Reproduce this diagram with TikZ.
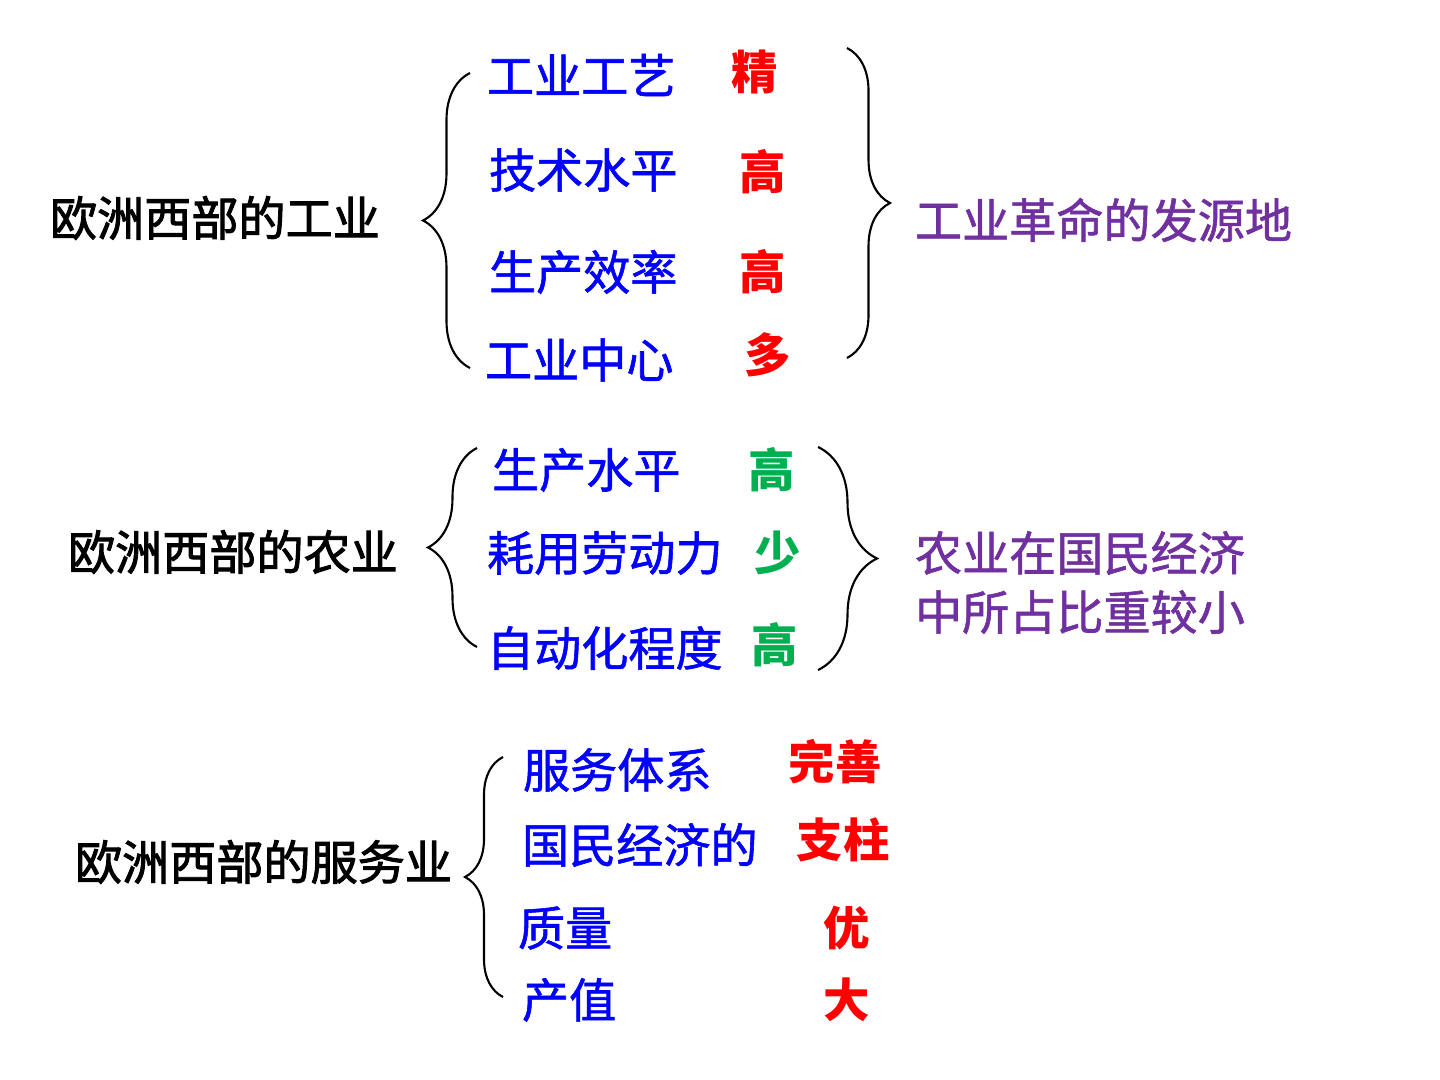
\documentclass[tikz,border=0pt]{standalone}
\usepackage{fontspec}
\setmainfont{Noto Sans CJK SC}
\newfontfamily\headfont[FakeBold=2]{Noto Sans CJK SC}
\newfontfamily\itemfont[FakeBold=1.2]{Noto Sans CJK SC}
\usetikzlibrary{decorations.pathreplacing}
\definecolor{itemblue}{RGB}{0,0,255}
\definecolor{markred}{RGB}{255,0,0}
\definecolor{markgreen}{RGB}{0,176,80}
\definecolor{resultpurple}{RGB}{112,48,160}
\tikzset{
    headnode/.style = {
        anchor=west,
        inner sep=0pt,
        outer sep=0pt,
        text=black,
        font=\fontsize{13.4}{16}\selectfont\headfont
    },
    itemnode/.style = {
        headnode,
        text=itemblue,
        font=\fontsize{13.4}{16}\selectfont\itemfont
    },
    marknode/.style = {
        anchor=center,
        inner sep=0pt,
        outer sep=0pt,
        text=markred,
        font=\fontsize{13.2}{16}\selectfont\bfseries
    },
    greenmarknode/.style = {
        marknode,
        text=markgreen
    },
    resultnode/.style = {
        itemnode,
        text=resultpurple
    },
    bracepath/.style = {
        decorate,
        decoration={brace, amplitude=#1},
        line width=0.6pt
    }
}

\begin{document}
\begin{tikzpicture}[x=0.01cm, y=-0.01cm]
    \useasboundingbox (0,0) rectangle (1440,1080);

    % industry
    \node [headnode] (ind) at (50,218) {欧洲西部的工业};
    \node [itemnode] (ind1) at (487,75) {工业工艺};
    \node [itemnode] (ind2) at (489,170) {技术水平};
    \node [itemnode] (ind3) at (489,272) {生产效率};
    \node [itemnode] (ind4) at (485,360) {工业中心};
    \node [marknode] (indm1) at (755,72) {精};
    \node [marknode] (indm2) at (763,172) {高};
    \node [marknode] (indm3) at (763,272) {高};
    \node [marknode] (indm4) at (768,355) {多};
    \node [resultnode] (indres) at (915,220) {工业革命的发源地};
    \coordinate (indlb) at (470,368);
    \coordinate (indlt) at (470,73);
    \coordinate (indrt) at (847,48);
    \coordinate (indrb) at (847,358);
    \draw [bracepath=4.7mm] (indlb) -- (indlt);
    \draw [bracepath=4.3mm] (indrt) -- (indrb);

    % agriculture
    \node [headnode] (agr) at (68,552) {欧洲西部的农业};
    \node [itemnode] (agr1) at (492,470) {生产水平};
    \node [itemnode] (agr2) at (487,553) {耗用劳动力};
    \node [itemnode] (agr3) at (487,648) {自动化程度};
    \node [greenmarknode] (agrm1) at (772,470) {高};
    \node [greenmarknode] (agrm2) at (778,553) {少};
    \node [greenmarknode] (agrm3) at (775,645) {高};
    \node [resultnode] (agrres1) at (915,553) {农业在国民经济};
    \node [resultnode] (agrres2) at (915,612) {中所占比重较小};
    \coordinate (agrlb) at (477,647);
    \coordinate (agrlt) at (477,448);
    \coordinate (agrrt) at (818,447);
    \coordinate (agrrb) at (818,670);
    \draw [bracepath=4.9mm] (agrlb) -- (agrlt);
    \draw [bracepath=5.9mm] (agrrt) -- (agrrb);

    % services
    \node [headnode] (ser) at (75,862) {欧洲西部的服务业};
    \node [itemnode] (ser1) at (523,770) {服务体系};
    \node [itemnode] (ser2) at (522,845) {国民经济的};
    \node [itemnode] (ser3) at (518,928) {质量};
    \node [itemnode] (ser4) at (522,1000) {产值};
    \node [marknode] (serm1) at (835,762) {完善};
    \node [marknode] (serm2) at (843,840) {支柱};
    \node [marknode] (serm3) at (847,928) {优};
    \node [marknode] (serm4) at (847,1000) {大};
    \coordinate (serlb) at (503,997);
    \coordinate (serlt) at (503,757);
    \draw [bracepath=3.8mm] (serlb) -- (serlt);
\end{tikzpicture}
\end{document}
